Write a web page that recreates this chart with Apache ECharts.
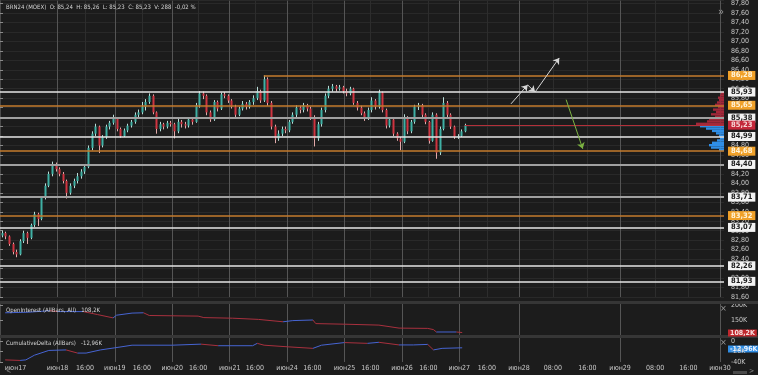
<!DOCTYPE html>
<html><head><meta charset="utf-8">
<script src="https://cdn.jsdelivr.net/npm/echarts@6/dist/echarts.min.js"></script>
<style>html,body{margin:0;padding:0;background:#1c1c1c;overflow:hidden}#c{width:758px;height:375px}</style>
</head><body><div id="c"></div>
<script>
// ---------------- DATA ----------------
const instrumentTitle = 'BRN24 (MOEX)  O: 85,24  H: 85,26  L: 85,23  C: 85,23  V: 288  -0,02 %';
const oiTitle = 'OpenInterest (AllBars, All)   108,2K';
const cdTitle = 'CumulativeDelta (AllBars)   -12,96K';
const barsPerDay = 16;
// [open, close, low, high]
const candles = [
 [82.90,82.95,82.86,83.00],[82.95,82.88,82.82,82.98],[82.88,82.72,82.68,82.90],[82.72,82.55,82.50,82.75],
 [82.55,82.50,82.44,82.60],[82.50,82.78,82.48,82.82],[82.78,82.95,82.74,83.00],[82.95,82.85,82.72,82.98],
 [82.85,83.12,82.82,83.15],[83.12,83.35,83.08,83.40],[83.35,83.25,83.10,83.38],[83.25,83.70,83.22,83.72],
 [83.70,83.95,83.66,84.00],[83.95,84.20,83.92,84.25],[84.20,84.40,84.15,84.46],[84.40,84.30,84.25,84.44],
 [84.30,84.20,84.15,84.34],[84.20,84.05,84.00,84.24],[84.05,83.80,83.68,84.08],[83.80,83.95,83.76,84.00],
 [83.95,84.05,83.90,84.10],[84.05,84.15,84.00,84.22],[84.15,84.25,84.10,84.30],[84.25,84.35,84.20,84.40],
 [84.35,84.75,84.32,84.80],[84.75,85.05,84.70,85.10],[85.05,85.20,85.00,85.26],[85.20,84.80,84.64,85.22],
 [84.80,84.98,84.76,85.02],[84.98,85.20,84.94,85.24],[85.20,85.28,85.14,85.32],[85.28,85.38,85.24,85.45],
 [85.38,85.15,85.10,85.40],[85.15,85.00,84.96,85.18],[85.00,85.12,84.98,85.16],[85.12,85.22,85.08,85.26],
 [85.22,85.30,85.18,85.34],[85.30,85.45,85.26,85.50],[85.45,85.50,85.40,85.56],[85.50,85.62,85.46,85.72],
 [85.62,85.72,85.54,85.78],[85.72,85.85,85.68,85.90],[85.85,85.50,85.46,85.88],[85.50,85.15,85.05,85.52],
 [85.15,85.25,85.10,85.30],[85.25,85.20,85.14,85.28],[85.20,85.28,85.16,85.32],[85.28,85.25,85.20,85.32],
 [85.25,85.10,84.95,85.28],[85.10,85.30,85.06,85.36],[85.30,85.25,85.18,85.34],[85.25,85.22,85.16,85.30],
 [85.22,85.35,85.18,85.40],[85.35,85.30,85.24,85.38],[85.30,85.65,85.28,85.70],[85.65,85.90,85.60,85.95],
 [85.90,85.85,85.78,85.94],[85.85,85.50,85.44,85.88],[85.50,85.35,85.30,85.54],[85.35,85.72,85.32,85.76],
 [85.72,85.58,85.52,85.75],[85.58,85.88,85.55,85.92],[85.88,85.85,85.80,85.93],[85.85,85.75,85.70,85.88],
 [85.75,85.62,85.58,85.78],[85.62,85.45,85.40,85.66],[85.45,85.58,85.42,85.62],[85.58,85.68,85.54,85.74],
 [85.68,85.62,85.56,85.72],[85.62,85.72,85.58,85.76],[85.72,85.80,85.66,85.86],[85.80,85.95,85.76,86.04],
 [85.95,85.75,85.70,85.98],[85.75,86.20,85.72,86.28],[86.20,85.70,85.64,86.24],[85.70,85.20,85.14,85.74],
 [85.20,84.95,84.85,85.24],[84.95,85.05,84.90,85.12],[85.05,85.15,85.00,85.20],[85.15,85.12,85.06,85.20],
 [85.12,85.30,85.08,85.34],[85.30,85.45,85.26,85.50],[85.45,85.60,85.40,85.65],[85.60,85.55,85.48,85.64],
 [85.55,85.65,85.50,85.70],[85.65,85.58,85.52,85.68],[85.58,85.40,85.34,85.62],[85.40,84.95,84.78,85.44],
 [84.95,85.25,84.90,85.30],[85.25,85.55,85.20,85.60],[85.55,85.85,85.50,85.90],[85.85,86.00,85.80,86.06],
 [86.00,86.05,85.94,86.10],[86.05,86.00,85.94,86.08],[86.00,86.03,85.96,86.08],[86.03,85.95,85.90,86.06],
 [85.95,85.90,85.84,86.00],[85.90,86.00,85.86,86.04],[86.00,85.70,85.66,86.02],[85.70,85.60,85.54,85.74],
 [85.60,85.48,85.44,85.64],[85.48,85.38,85.32,85.52],[85.38,85.55,85.34,85.60],[85.55,85.75,85.50,85.82],
 [85.75,85.62,85.56,85.78],[85.62,85.92,85.58,85.98],[85.92,85.55,85.50,85.94],[85.55,85.22,85.16,85.58],
 [85.22,85.35,85.18,85.40],[85.35,85.05,85.00,85.38],[85.05,84.95,84.90,85.08],[84.95,84.88,84.70,84.98],
 [84.88,85.40,84.85,85.46],[85.40,85.10,85.04,85.42],[85.10,85.30,85.06,85.34],[85.30,85.62,85.26,85.66],
 [85.62,85.65,85.55,85.70],[85.65,85.45,85.40,85.68],[85.45,85.30,85.25,85.48],[85.30,84.90,84.84,85.32],
 [84.90,85.45,84.88,85.50],[85.45,84.65,84.52,85.48],[84.65,85.15,84.60,85.20],[85.15,85.70,85.12,85.82],
 [85.70,85.45,85.40,85.74],[85.45,85.20,85.15,85.48],[85.20,84.98,84.94,85.22],[84.98,85.00,84.94,85.04],
 [85.00,85.10,84.98,85.14],[85.10,85.23,85.08,85.26]
];
// x-axis time scale: one unit = one trading day (июн17 starts at 0)
const xMax = 12.61;
const dayTickPos = [1, 2, 3, 4, 5, 6, 7, 8, 9.04, 10.8, 12.54];
const dayTickLabels = ['июн18','июн19','июн20','июн21','июн24','июн25','июн26','июн27','июн28','июн29','июн30'];
const hourTickPos = [0.27, 1.48, 2.47, 3.45, 4.44, 5.44, 6.45, 7.46, 8.48, 9.63, 10.23, 11.41, 11.99];
const hourTickLabels = ['июн17','16:00','16:00','16:00','16:00','16:00','16:00','16:00','16:00','08:00','16:00','08:00','16:00'];
// price levels
const levelPrices = [86.28, 85.93, 85.65, 85.38, 84.99, 84.68, 84.40, 83.71, 83.32, 83.07, 82.26, 81.93];
const levelKinds  = ['orange','white','orange','grey','white','orange','grey','grey','orange','white','white','white'];
const lastPrice = 85.23;
// volume profile
const profilePrices = [85.90,85.85,85.80,85.75,85.70,85.65,85.60,85.55,85.50,85.45,85.40,85.35,85.30,85.25,
                       85.20,85.15,85.10,85.05,85.00,84.95,84.90,84.85,84.80,84.75,84.70];
const profileVolumes = [3,4,6,5,7,9,6,11,8,13,9,15,17,28,24,18,12,8,5,4,7,12,15,13,5];
const profileStep = 0.05;
// open interest (K)
const oiTimes  = [0.09,0.5,0.87,1.0,1.45,1.7,1.97,2.03,2.3,2.5,2.6,3.0,3.45,3.55,4.05,4.5,4.93,5.1,5.45,5.5,6.0,6.6,6.95,7.45,7.55,7.6,7.95,8.05];
const oiValues = [174,176,181,178,178,168,157,166,173,174,165,164,163,158,156,152,144,148,150,138,136,133,123,122,118,110,110,108.2];
const oiLast = 108.2;
const oiTicks = [150, 200];
// cumulative delta (K)
const cdTimes  = [0.09,0.35,0.45,0.6,0.85,1.15,1.35,1.5,1.75,2.0,2.3,3.0,3.5,3.8,4.4,4.48,4.6,5.0,5.45,5.6,6.0,6.4,6.6,6.95,7.2,7.45,7.55,7.7,8.05];
const cdValues = [-36,-37,-36,-27,-18,-17,-23,-23,-17,-13,-8,-8,-6,-9,-9,-4.5,-8,-11,-14,-8,-3,-4.5,-2.5,-7.5,-7.5,-6.5,-17,-14,-12.96];
const cdLast = -12.96;
const cdTicks = [-40, -20, 0];
// hand-drawn arrows (time, price)
const arrowSegments = [
  {from:[8.90,85.68], to:[9.19,86.08], color:'white'},
  {from:[9.19,86.08], to:[9.32,85.93], color:'white'},
  {from:[9.32,85.93], to:[9.74,86.65], color:'white'},
  {from:[9.86,85.77], to:[10.15,84.73], color:'green'}
];

// ---------------- STYLE ----------------
const FF = "'Liberation Sans Narrow','DejaVu Sans Condensed','Roboto Condensed','Liberation Sans',sans-serif";
const BG = '#1c1c1c';
const TXT = '#c9c9c9';
const DAYLINE = '#555555';
const HOURLINE = '#2d2d2d';
const levelColor = {orange:'#c47b2c', white:'#e4e4e4', grey:'#a0a0a0'};
const levelWidth = {orange:1.6, white:1.6, grey:2};
const boxBg = {orange:'#f0a12a', white:'#f3f3f3', grey:'#f3f3f3'};
const boxFg = {orange:'#fff4da', white:'#1a1a1a', grey:'#1a1a1a'};
const arrowColor = {white:'#d6d6d6', green:'#7cb342'};
const AX_FS = 7;

const comma = v => Number(v).toFixed(2).replace('.', ',');
const kLabel = v => v === 0 ? '0' : v + 'K';
const labelMap = {};
dayTickPos.forEach((p,i)=>labelMap[p]=dayTickLabels[i]);
hourTickPos.forEach((p,i)=>labelMap[p]=hourTickLabels[i]);

const tOf = i => (i + 0.5) / barsPerDay;
const candleData = candles.map((c,i)=>[tOf(i), c[0], c[1], c[2], c[3]]);
let hiIdx = 0; candles.forEach((c,i)=>{ if (c[3] > candles[hiIdx][3]) hiIdx = i; });
const lastT = tOf(candles.length - 1);

// grids
const G_MAIN = {left:0, right:34, top:0, height:297};
const G_OI = {left:0, right:34, top:304, height:31};
const G_CD = {left:0, right:34, top:338, height:24};
const G_PROF = {left:679, right:34, top:0, height:297};
const AXIS_X = 758 - 34;

function dayAxis(grid, showLabels){
  return {type:'value', gridIndex:grid, min:0, max:xMax, position:'bottom',
    axisLine:{show:false}, axisTick:{show:false, customValues:dayTickPos},
    axisLabel:{show:showLabels, customValues:dayTickPos, formatter:v=>labelMap[v]||'', color:TXT, fontSize:AX_FS, fontFamily:FF, margin:3},
    splitLine:{show:true, lineStyle:{color:DAYLINE, width:1}}};
}
function hourAxis(grid, showLabels, showLines){
  const pos = showLabels ? hourTickPos : hourTickPos.slice(1);
  return {type:'value', gridIndex:grid, min:0, max:xMax, position:'bottom',
    axisLine:{show:false}, axisTick:{show:false, customValues:pos},
    axisLabel:{show:showLabels, customValues:pos, formatter:v=>labelMap[v]||'', color:TXT, fontSize:AX_FS, fontFamily:FF, margin:3},
    splitLine:{show:showLines, lineStyle:{color:HOURLINE, width:1}}};
}

// level mark lines
const boxLabel = (text, fg, bg) => ({show:true, position:'end', distance:4, formatter:text, color:fg, backgroundColor:bg,
  fontSize:7.5, fontFamily:FF, padding:[1,3,0,3], fontWeight:'bold'});
const levelLines = levelPrices.map((p,i)=>{
  const k = levelKinds[i];
  const start = Math.abs(p - candles[hiIdx][3]) < 0.005 ? tOf(hiIdx) : 0;
  return [{coord:[start,p], lineStyle:{color:levelColor[k], width:levelWidth[k], type:'solid', opacity:1},
           label:boxLabel(comma(p), boxFg[k], boxBg[k])},
          {coord:[xMax,p]}];
});
levelLines.push([{coord:[lastT,lastPrice], lineStyle:{color:'#b3303a', width:1.2, type:'solid'},
  label:boxLabel(comma(lastPrice), '#f6d6d6', '#c4283a')}, {coord:[xMax,lastPrice]}]);

const arrowLines = arrowSegments.map(a=>[{coord:a.from, lineStyle:{color:arrowColor[a.color], width:1, type:'solid'}},{coord:a.to}]);

function splitRuns(ts, vs){
  const runs = []; let cur = null;
  for (let i=0;i<ts.length-1;i++){
    const dir = vs[i+1] >= vs[i] ? 'up' : 'down';
    if (!cur || cur.dir !== dir){ cur = {dir, pts:[[ts[i],vs[i]]]}; runs.push(cur); }
    cur.pts.push([ts[i+1],vs[i+1]]);
  }
  return runs;
}
const runColor = {up:'#4664d2', down:'#a8303e'};
const oiSeries = splitRuns(oiTimes, oiValues).map(r=>({type:'line', xAxisIndex:2, yAxisIndex:1, data:r.pts, showSymbol:false,
  lineStyle:{color:runColor[r.dir], width:1}, silent:true, animation:false}));
const cdSeries = splitRuns(cdTimes, cdValues).map(r=>({type:'line', xAxisIndex:4, yAxisIndex:2, data:r.pts, showSymbol:false,
  lineStyle:{color:runColor[r.dir], width:1}, silent:true, animation:false}));

const baseGraphics = [
  {type:'rect', left:0, top:301, shape:{width:758, height:3}, style:{fill:'#363636'}, z:100},
  {type:'rect', left:0, top:335, shape:{width:758, height:3}, style:{fill:'#363636'}, z:100},
  {type:'rect', left:733, top:371, shape:{width:14, height:3}, style:{fill:'#4a4a4a'}, z:100},
  {type:'text', left:6, top:4, style:{text:instrumentTitle, fill:'#d4d4d4', font:'6px '+FF}, z:100},
  {type:'text', left:6, top:307, style:{text:oiTitle, fill:'#d4d4d4', font:'6px '+FF}, z:100},
  {type:'text', left:6, top:340, style:{text:cdTitle, fill:'#d4d4d4', font:'6px '+FF}, z:100},
  {type:'text', left:718, top:7, style:{text:'»', fill:'#9a9a9a', font:'11px '+FF}, z:100},
  {type:'text', left:720, top:304, style:{text:'×', fill:'#9a9a9a', font:'9px '+FF}, z:100},
  {type:'text', left:720, top:338, style:{text:'×', fill:'#9a9a9a', font:'9px '+FF}, z:100},
  {type:'text', left:6, top:368, style:{text:'<', fill:'#8a8a8a', font:'7px '+FF}, z:100},
  {type:'text', left:749, top:368, style:{text:'>', fill:'#8a8a8a', font:'7px '+FF}, z:100}
];

const chart = echarts.init(document.getElementById('c'), null, {renderer:'canvas'});
chart.setOption({
  animation:false,
  backgroundColor:BG,
  grid:[G_MAIN, G_OI, G_CD, G_PROF],
  xAxis:[
    dayAxis(0,false), hourAxis(0,false,true),
    dayAxis(1,false), hourAxis(1,false,false),
    dayAxis(2,true), hourAxis(2,true,false),
    {type:'value', gridIndex:3, min:0, max:45, inverse:true, show:false, splitLine:{show:false}}
  ],
  yAxis:[
    {type:'value', gridIndex:0, position:'right', min:81.6, max:87.86, interval:0.2,
     axisLine:{show:true, lineStyle:{color:'#4a4a4a'}}, axisTick:{show:true, length:3, lineStyle:{color:'#8a8a8a'}},
     axisLabel:{formatter:v=>comma(v), color:TXT, fontSize:AX_FS, fontFamily:FF, margin:7, showMaxLabel:false},
     splitLine:{show:true, lineStyle:{color:'#292929', width:1}}},
    {type:'value', gridIndex:1, position:'right', min:100, max:203.3,
     axisLine:{show:true, lineStyle:{color:'#4a4a4a'}}, axisTick:{show:true, length:3, customValues:oiTicks, lineStyle:{color:'#8a8a8a'}},
     axisLabel:{show:false}, splitLine:{show:false}},
    {type:'value', gridIndex:2, position:'right', min:-40, max:5.7,
     axisLine:{show:true, lineStyle:{color:'#4a4a4a'}}, axisTick:{show:true, length:3, customValues:cdTicks, lineStyle:{color:'#8a8a8a'}},
     axisLabel:{show:false}, splitLine:{show:false}},
    {type:'value', gridIndex:3, min:81.6, max:87.86, show:false, splitLine:{show:false}}
  ],
  series:[
    {type:'custom', name:'profile', xAxisIndex:6, yAxisIndex:3, silent:true,
     data:profilePrices.map((p,i)=>[profileVolumes[i], p]),
     encode:{x:0, y:1},
     renderItem:(params, api)=>{
       const v = api.value(0), p = api.value(1);
       const a = api.coord([0, p + profileStep/2]);
       const b = api.coord([v, p - profileStep/2]);
       return {type:'rect', shape:{x:Math.min(a[0],b[0]), y:Math.min(a[1],b[1]), width:Math.abs(a[0]-b[0]), height:Math.abs(a[1]-b[1])},
               style:{fill: p >= lastPrice ? '#a3283a' : '#2f8ee6'}};
     }},
    {type:'line', data:[], xAxisIndex:0, yAxisIndex:0, silent:true, z:3,
     markLine:{silent:true, symbol:['none','none'], animation:false, data:levelLines}},
    {type:'custom', name:'candles', xAxisIndex:0, yAxisIndex:0, silent:true, data:candleData, z:4,
     encode:{x:0, y:[1,2,3,4]},
     renderItem:(params, api)=>{
       const t = api.value(0), o = api.value(1), c = api.value(2), l = api.value(3), h = api.value(4);
       const pO = api.coord([t,o]), pC = api.coord([t,c]), pL = api.coord([t,l]), pH = api.coord([t,h]);
       const up = c >= o;
       const x = Math.round(pO[0]);
       const top = Math.min(pO[1], pC[1]);
       const ht = Math.max(1, Math.abs(pO[1]-pC[1]));
       return {type:'group', children:[
         {type:'line', shape:{x1:x+0.5, y1:pH[1], x2:x+0.5, y2:pL[1]}, style:{stroke: up ? '#b9ddd8' : '#e2aaaa', lineWidth:1}},
         {type:'rect', shape:{x:x-0.5, y:top, width:2, height:ht}, style:{fill: up ? '#3fb0a4' : '#cf3440'}}
       ]};
     }},
    {type:'line', data:[], xAxisIndex:0, yAxisIndex:0, silent:true, z:5,
     markLine:{silent:true, symbol:['none','arrow'], symbolSize:6, animation:false, data:arrowLines, label:{show:false}}},
    ...oiSeries,
    ...cdSeries
  ],
  graphic: baseGraphics
});

// right-side value labels of the two sub-panels, placed through the panels' own y scales
const subLabels = [];
const plainText = (yIdx, v, text) => ({type:'text', x:AXIS_X + 7, y:Math.round(chart.convertToPixel({yAxisIndex:yIdx}, v)), z:96,
  style:{text, fill:TXT, font:AX_FS + 'px ' + FF, verticalAlign:'middle', align:'left'}});
const boxText = (yIdx, v, text, fg, bg, dy, z) => ({type:'text', x:AXIS_X + 4, y:Math.round(chart.convertToPixel({yAxisIndex:yIdx}, v)) + dy, z,
  style:{text, fill:fg, backgroundColor:bg, padding:[0,2,0,2], font:'bold 7px ' + FF, verticalAlign:'middle', align:'left'}});
subLabels.push(boxText(1, oiLast, '108,2K', '#f6dede', '#c0282e', 0, 101));
subLabels.push(boxText(2, cdLast, '-12,96K', '#e8f2ff', '#2f8de4', 1, 95));
oiTicks.forEach(v => subLabels.push(plainText(1, v, kLabel(v))));
cdTicks.forEach(v => subLabels.push(plainText(2, v, kLabel(v))));
chart.setOption({graphic: baseGraphics.concat(subLabels)});
</script></body></html>
